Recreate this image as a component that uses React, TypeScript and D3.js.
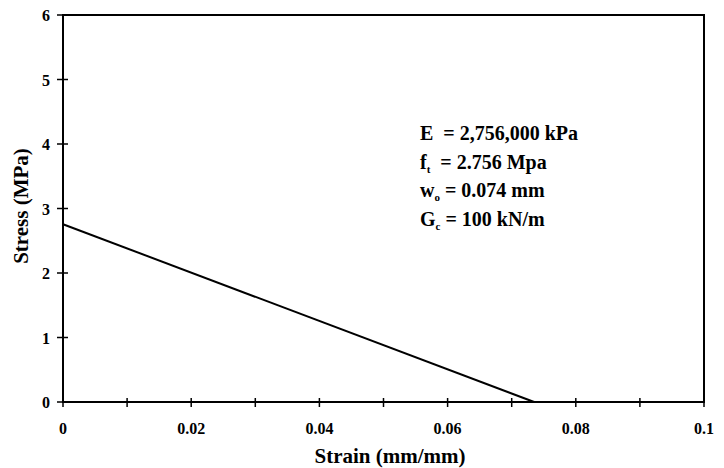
import React, { useEffect, useRef } from "react";
import * as d3 from "d3";

// stress-strain softening line
const strain = [0, 0.0735];
const stress = [2.756, 0];

const xTicks = [0, 0.01, 0.02, 0.03, 0.04, 0.05, 0.06, 0.07, 0.08, 0.09, 0.1];
const xLabels = [0, 0.02, 0.04, 0.06, 0.08, 0.1];
const yTicks = [0, 1, 2, 3, 4, 5, 6];

const notes = [
  { main: "E", sub: "", rest: "  = 2,756,000 kPa" },
  { main: "f", sub: "t", rest: "  = 2.756 Mpa" },
  { main: "w", sub: "o", rest: " = 0.074 mm" },
  { main: "G", sub: "c", rest: " = 100 kN/m" },
];

const App = () => {
  const ref = useRef<SVGSVGElement>(null);

  useEffect(() => {
    const svg = d3.select(ref.current);
    svg.selectAll("*").remove();

    const width = 724, height = 468;
    const margin = { top: 15, right: 20, bottom: 66, left: 63 };
    const font = "'Liberation Serif', 'Times New Roman', serif";

    const x = d3.scaleLinear().domain([0, 0.1]).range([margin.left, width - margin.right]);
    const y = d3.scaleLinear().domain([0, 6]).range([height - margin.bottom, margin.top]);

    svg.append("rect").attr("width", width).attr("height", height).attr("fill", "#fff");

    // frame
    svg.append("rect")
      .attr("x", x(0)).attr("y", y(6))
      .attr("width", x(0.1) - x(0)).attr("height", y(0) - y(6))
      .attr("fill", "none").attr("stroke", "#000").attr("stroke-width", 2);

    // x ticks
    svg.append("g").selectAll("line").data(xTicks).enter().append("line")
      .attr("x1", (d) => x(d)).attr("x2", (d) => x(d))
      .attr("y1", y(0) - 4).attr("y2", y(0) + 5)
      .attr("stroke", "#000").attr("stroke-width", 1.5);

    svg.append("g").selectAll("text").data(xLabels).enter().append("text")
      .attr("x", (d) => x(d)).attr("y", y(0) + 32)
      .attr("text-anchor", "middle")
      .style("font-family", font).style("font-weight", "bold").style("font-size", "16px")
      .text((d) => String(d));

    // y ticks
    svg.append("g").selectAll("line").data(yTicks).enter().append("line")
      .attr("x1", x(0) - 6).attr("x2", x(0) + 5)
      .attr("y1", (d) => y(d)).attr("y2", (d) => y(d))
      .attr("stroke", "#000").attr("stroke-width", 1.5);

    svg.append("g").selectAll("text").data(yTicks).enter().append("text")
      .attr("x", x(0) - 13).attr("y", (d) => y(d) + 6)
      .attr("text-anchor", "end")
      .style("font-family", font).style("font-weight", "bold").style("font-size", "16px")
      .text((d) => String(d));

    // axis titles
    svg.append("text")
      .attr("x", 390).attr("y", 463)
      .attr("text-anchor", "middle")
      .style("font-family", font).style("font-weight", "bold").style("font-size", "21px")
      .text("Strain (mm/mm)");

    svg.append("text")
      .attr("transform", `translate(28,206) rotate(-90)`)
      .attr("text-anchor", "middle")
      .style("font-family", font).style("font-weight", "bold").style("font-size", "21px")
      .text("Stress (MPa)");

    // line
    const pts = strain.map((s, i) => [s, stress[i]] as [number, number]);
    svg.append("path")
      .datum(pts)
      .attr("fill", "none").attr("stroke", "#000").attr("stroke-width", 2)
      .attr("d", d3.line<[number, number]>().x((d) => x(d[0])).y((d) => y(d[1])));

    // annotation
    const g = svg.append("g")
      .style("font-family", font).style("font-weight", "bold").style("font-size", "20px");
    notes.forEach((n, i) => {
      const t = g.append("text").attr("x", 420).attr("y", 140 + i * 28.7)
        .attr("xml:space", "preserve").style("white-space", "pre");
      t.append("tspan").text(n.main);
      if (n.sub) t.append("tspan").attr("dy", 4).style("font-size", "11px").text(n.sub);
      t.append("tspan").attr("dy", n.sub ? -4 : 0).text(n.rest);
    });
  }, []);

  return <svg ref={ref} width={724} height={468} style={{ position: "absolute", left: 0, top: 0 }} />;
};

export default App;
